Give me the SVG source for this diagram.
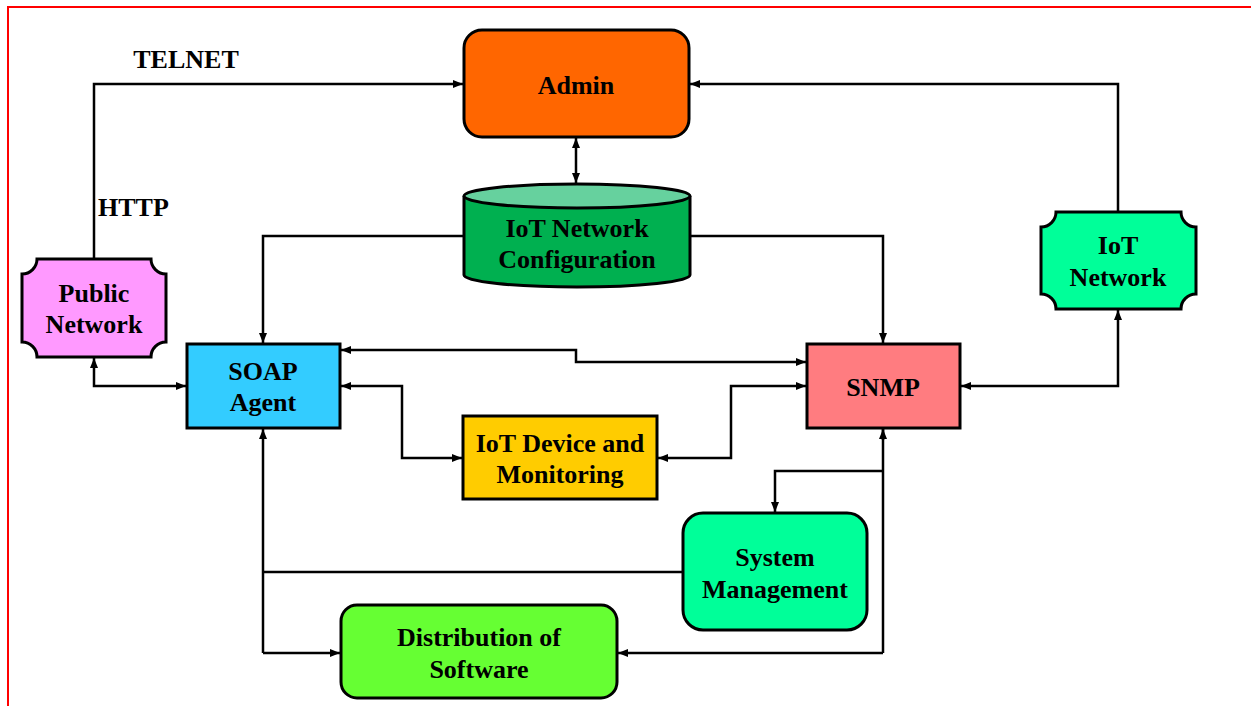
<svg xmlns="http://www.w3.org/2000/svg" width="1251" height="706" viewBox="0 0 1251 706">
  <style>
    .box { stroke: #000; stroke-width: 3; }
    .lbl { font-family: "Liberation Serif", "Times New Roman", serif; font-weight: bold; font-size: 26px; fill: #000; text-anchor: middle; }
    .conn { fill: none; stroke: #000; stroke-width: 2.5; }
    .arr { marker-end: url(#ah); }
    .both { marker-start: url(#ahs); marker-end: url(#ah); }
  </style>
  <defs>
    <marker id="ah" viewBox="0 0 10 10" refX="10" refY="5" markerWidth="10" markerHeight="10" markerUnits="userSpaceOnUse" orient="auto">
      <path d="M0,1 L10,5 L0,9 Z" fill="#000"/>
    </marker>
    <marker id="ahs" viewBox="0 0 10 10" refX="0" refY="5" markerWidth="10" markerHeight="10" markerUnits="userSpaceOnUse" orient="auto">
      <path d="M10,1 L0,5 L10,9 Z" fill="#000"/>
    </marker>
  </defs>

  <rect width="1251" height="706" fill="#fff"/>
  <!-- outer frame -->
  <rect x="8" y="7" width="1300" height="760" fill="none" stroke="#ff0000" stroke-width="2"/>

  <g id="connectors">
    <!-- Public Network to Admin (TELNET / HTTP) -->
    <path class="conn arr" d="M94,259 V84 H463"/>
    <!-- IoT Network to Admin -->
    <path class="conn arr" d="M1118,211 V84 H690"/>
    <!-- Admin <-> configuration store -->
    <path class="conn both" d="M576,138 V183"/>
    <!-- configuration store to SOAP Agent -->
    <path class="conn arr" d="M463,236 H263 V343"/>
    <!-- configuration store to SNMP -->
    <path class="conn arr" d="M690,236 H883 V343"/>
    <!-- SOAP Agent <-> SNMP -->
    <path class="conn both" d="M341,350 H576 V362 H806"/>
    <!-- SOAP Agent <-> IoT Device -->
    <path class="conn both" d="M341,386 H402 V458 H462"/>
    <!-- IoT Device <-> SNMP -->
    <path class="conn both" d="M658,458 H731 V386 H806"/>
    <!-- SNMP <-> IoT Network -->
    <path class="conn both" d="M961,386 H1118 V310"/>
    <!-- Public Network <-> SOAP Agent -->
    <path class="conn both" d="M94,358 V386 H186"/>
    <!-- SNMP to Distribution of Software, branch to System Management -->
    <path class="conn" d="M883,429 V653"/>
    <path class="conn" d="M883,440 V429" marker-end="url(#ah)"/>
    <path class="conn arr" d="M883,653 H618"/>
    <path class="conn arr" d="M883,471 H775 V512"/>
    <!-- SOAP Agent to Distribution of Software, joined by System Management -->
    <path class="conn" d="M263,440 V653"/>
    <path class="conn" d="M263,440 V429" marker-end="url(#ah)"/>
    <path class="conn arr" d="M263,653 H340"/>
    <path class="conn" d="M683,572 H263"/>
  </g>

  <text class="lbl" x="186" y="68">TELNET</text>
  <text class="lbl" x="98" y="216" style="text-anchor:start">HTTP</text>

  <g id="admin">
    <rect class="box" x="464" y="30" width="225" height="107" rx="18" fill="#ff6600"/>
    <text class="lbl" x="576" y="94">Admin</text>
  </g>

  <g id="iot-network-configuration">
    <path class="box" d="M464,196 V275 A113,12 0 0 0 690,275 V196" fill="#00b050"/>
    <ellipse class="box" cx="577" cy="196" rx="113" ry="12" fill="#66d19e"/>
    <text class="lbl" x="577" y="237">IoT Network</text>
    <text class="lbl" x="577" y="268">Configuration</text>
  </g>

  <g id="public-network">
    <path class="box" fill="#ff99ff" d="M37,259 H151 A15,15 0 0 0 166,274 V342 A15,15 0 0 0 151,357 H37 A15,15 0 0 0 22,342 V274 A15,15 0 0 0 37,259 Z"/>
    <text class="lbl" x="94" y="302">Public</text>
    <text class="lbl" x="94" y="333">Network</text>
  </g>

  <g id="iot-network">
    <path class="box" fill="#00ff99" d="M1056,212 H1181 A15,15 0 0 0 1196,227 V294 A15,15 0 0 0 1181,309 H1056 A15,15 0 0 0 1041,294 V227 A15,15 0 0 0 1056,212 Z"/>
    <text class="lbl" x="1118" y="254">IoT</text>
    <text class="lbl" x="1118" y="286">Network</text>
  </g>

  <g id="soap-agent">
    <rect class="box" x="187" y="344" width="153" height="84" fill="#33ccff"/>
    <text class="lbl" x="263" y="380">SOAP</text>
    <text class="lbl" x="263" y="411">Agent</text>
  </g>

  <g id="snmp">
    <rect class="box" x="807" y="344" width="153" height="84" fill="#ff7c80"/>
    <text class="lbl" x="883" y="396">SNMP</text>
  </g>

  <g id="iot-device-monitoring">
    <rect class="box" x="463" y="416" width="194" height="83" fill="#ffcc00"/>
    <text class="lbl" x="560" y="452">IoT Device and</text>
    <text class="lbl" x="560" y="483">Monitoring</text>
  </g>

  <g id="system-management">
    <rect class="box" x="683" y="513" width="184" height="117" rx="20" fill="#00ff99"/>
    <text class="lbl" x="775" y="566">System</text>
    <text class="lbl" x="775" y="598">Management</text>
  </g>

  <g id="distribution-of-software">
    <rect class="box" x="341" y="605" width="276" height="93" rx="16" fill="#66ff33"/>
    <text class="lbl" x="479" y="646">Distribution of</text>
    <text class="lbl" x="479" y="678">Software</text>
  </g>
</svg>
